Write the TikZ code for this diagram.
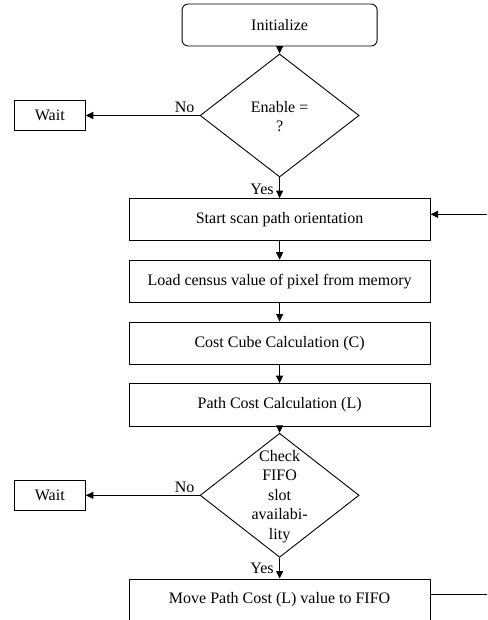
\documentclass[tikz,border=0pt]{standalone}
\usepackage{fontspec}
\setmainfont{Liberation Serif}
\usetikzlibrary{shapes.geometric,arrows.meta}
\begin{document}
\begin{tikzpicture}[x=1pt,y=-1pt,
  every node/.style={font=\fontsize{16}{19.5}\selectfont},
  box/.style={draw,line width=0.9pt,inner sep=0pt,minimum width=301pt,minimum height=42.3pt},
  waitbox/.style={draw,line width=0.9pt,inner sep=0pt,minimum width=71pt,minimum height=30.4pt},
  decision/.style={draw,diamond,line width=0.9pt,inner sep=0pt,minimum width=159pt,minimum height=123pt},
  lbl/.style={inner sep=1pt},
  arr/.style={line width=0.9pt,-{Triangle[length=7.5pt,width=7pt]}},
  ln/.style={line width=0.9pt}]
\useasboundingbox (0,0) rectangle (487,620);
\node[box,rounded corners=6pt,minimum width=195pt,minimum height=42pt] (init) at (279.6,25) {Initialize};
\node[decision] (d1) at (279.6,115.5) {};
\node[align=center,inner sep=0pt] (d1t) at (279.6,116.5) {Enable =\\?};
\node[waitbox] (wait1) at (49.8,115.5) {Wait};
\node[box] (start) at (279.6,219.7) {Start scan path orientation};
\node[box] (load) at (279.6,281.3) {Load census value of pixel from memory};
\node[box] (cost) at (279.6,343.2) {Cost Cube Calculation (C)};
\node[box] (path) at (279.6,404.8) {Path Cost Calculation (L)};
\node[decision,minimum height=124pt] (d2) at (279.6,495.3) {};
\node[align=center,inner sep=0pt] (d2t) at (279.6,496.5) {Check\\FIFO\\slot\\availabi-\\lity};
\node[waitbox,minimum height=30pt] (wait2) at (49.8,495.3) {Wait};
\node[box,minimum height=42pt] (move) at (279.6,600) {Move Path Cost (L) value to FIFO};
\coordinate (loopin) at (487,214.3);
\coordinate (loopout) at (487,594);
% connectors
\draw[arr] (init.south) -- (d1.north);
\draw[arr] (d1.west) -- (wait1.east);
\draw[arr] (d1.south) -- (start.north);
\draw[arr] (start.south) -- (load.north);
\draw[arr] (load.south) -- (cost.north);
\draw[arr] (cost.south) -- (path.north);
\draw[arr] (path.south) -- (d2.north);
\draw[arr] (d2.west) -- (wait2.east);
\draw[arr] (d2.south) -- (move.north);
\draw[arr] (loopin) -- (loopin -| start.east);
\draw[ln] (loopout -| move.east) -- (loopout);
% labels
\node[lbl,anchor=south east,xshift=-4pt,yshift=1.5pt] (no1) at (d1.west) {No};
\node[lbl,anchor=north east,xshift=-4.7pt,yshift=-5pt] (yes1) at (d1.south) {Yes};
\node[lbl,anchor=south east,xshift=-4pt,yshift=1.5pt] (no2) at (d2.west) {No};
\node[lbl,anchor=north east,xshift=-4.7pt,yshift=-4pt] (yes2) at (d2.south) {Yes};
\end{tikzpicture}
\end{document}
